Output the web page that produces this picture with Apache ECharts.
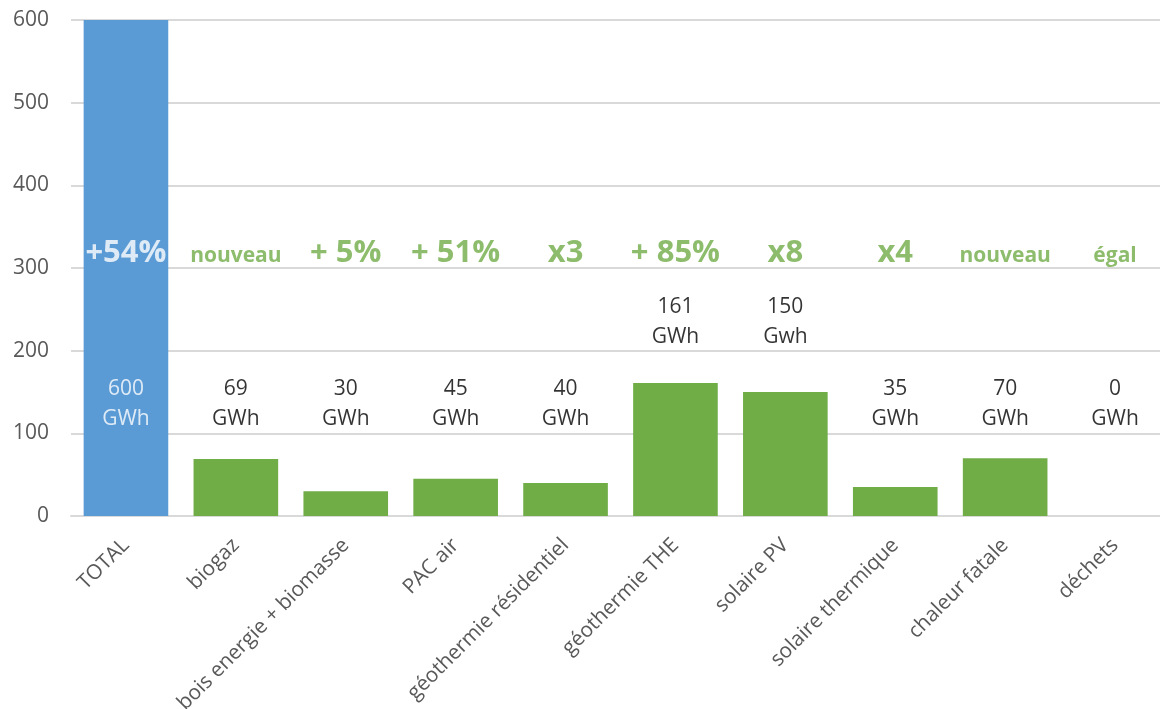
<!DOCTYPE html>
<html>
<head>
<meta charset="utf-8">
<script src="https://cdn.jsdelivr.net/npm/echarts@6/dist/echarts.min.js"></script>
<style>
  html, body { margin: 0; padding: 0; background: #fff; overflow: hidden; }
  #wrap { width: 1160px; height: 709px; overflow: hidden; position: relative; }
  #chart { width: 1170px; height: 709px; position: absolute; left: 0; top: 0; }
</style>
</head>
<body>
<div id="wrap"><div id="chart"></div></div>
<script>
// Production de chaleur / énergie renouvelable par filière (GWh)
const categories = ['TOTAL', 'biogaz', 'bois energie + biomasse', 'PAC air', 'géothermie résidentiel',
  'géothermie THE', 'solaire PV', 'solaire thermique', 'chaleur fatale', 'déchets'];
const values = [600, 69, 30, 45, 40, 161, 150, 35, 70, 0];
const units = ['GWh', 'GWh', 'GWh', 'GWh', 'GWh', 'GWh', 'Gwh', 'GWh', 'GWh', 'GWh'];
const evolutions = ['+54%', 'nouveau', '+ 5%', '+ 51%', 'x3', '+ 85%', 'x8', 'x4', 'nouveau', 'égal'];
const yTicks = [0, 100, 200, 300, 400, 500, 600];

const BLUE = '#5b9bd5';
const GREEN = '#70ad47';
const FONT = '"Open Sans", "Noto Sans", sans-serif';

// Heights (in data units) of the text rows
const EVOLUTION_ROW = 318;
const VALUE_ROW_LOW = 135;
const VALUE_ROW_HIGH = 235;

const chart = echarts.init(document.getElementById('chart'), null, { renderer: 'canvas' });

const barData = values.map((v, i) => ({
  value: v,
  itemStyle: { color: i === 0 ? BLUE : GREEN }
}));

// Value labels: on a common row, lifted above bars that would cover it
const valueLabelData = values.map((v, i) => {
  const y = (i === 0 || v < 100) ? VALUE_ROW_LOW : VALUE_ROW_HIGH;
  return {
    value: [i, y],
    label: {
      formatter: v + '\n' + units[i],
      color: i === 0 ? '#ffffff' : '#000000'
    }
  };
});

// Evolution row: figures in large bold, words smaller
const evolutionData = evolutions.map((t, i) => {
  const isWord = /^[a-zéèê]+$/i.test(t) && !/^x\d/.test(t);
  return {
    value: [i, EVOLUTION_ROW],
    label: {
      formatter: t,
      fontSize: isWord ? 21 : 31,
      offset: isWord ? [0, 3] : [0, 0],
      color: i === 0 ? '#ffffff' : GREEN
    }
  };
});

chart.setOption({
  animation: false,
  grid: { left: 71, right: 0, top: 20, bottom: 193, containLabel: false, outerBoundsMode: 'none' },
  xAxis: {
    type: 'category',
    data: categories,
    axisTick: { show: false },
    axisLine: { show: true, lineStyle: { color: '#d9d9d9', width: 2 } },
    axisLabel: {
      rotate: 45,
      interval: 0,
      margin: 26,
      color: '#595959',
      fontFamily: FONT,
      fontSize: 20.7
    }
  },
  yAxis: {
    type: 'value',
    min: yTicks[0],
    max: yTicks[yTicks.length - 1],
    interval: 100,
    axisLine: { show: false },
    axisTick: { show: false },
    splitLine: { lineStyle: { color: '#d9d9d9', width: 2 } },
    axisLabel: {
      color: '#595959',
      fontFamily: FONT,
      fontSize: 21,
      margin: 22
    }
  },
  series: [
    {
      type: 'bar',
      data: barData,
      barCategoryGap: '23%',
      silent: true
    },
    {
      type: 'scatter',
      data: valueLabelData,
      symbolSize: 0,
      silent: true,
      z: 5,
      label: {
        show: true,
        position: 'inside',
        fontFamily: FONT,
        fontSize: 21,
        lineHeight: 30
      }
    },
    {
      type: 'scatter',
      data: evolutionData,
      symbolSize: 0,
      silent: true,
      z: 6,
      label: {
        show: true,
        position: 'inside',
        fontFamily: FONT,
        fontWeight: 'bold'
      }
    }
  ]
});
</script>
</body>
</html>
